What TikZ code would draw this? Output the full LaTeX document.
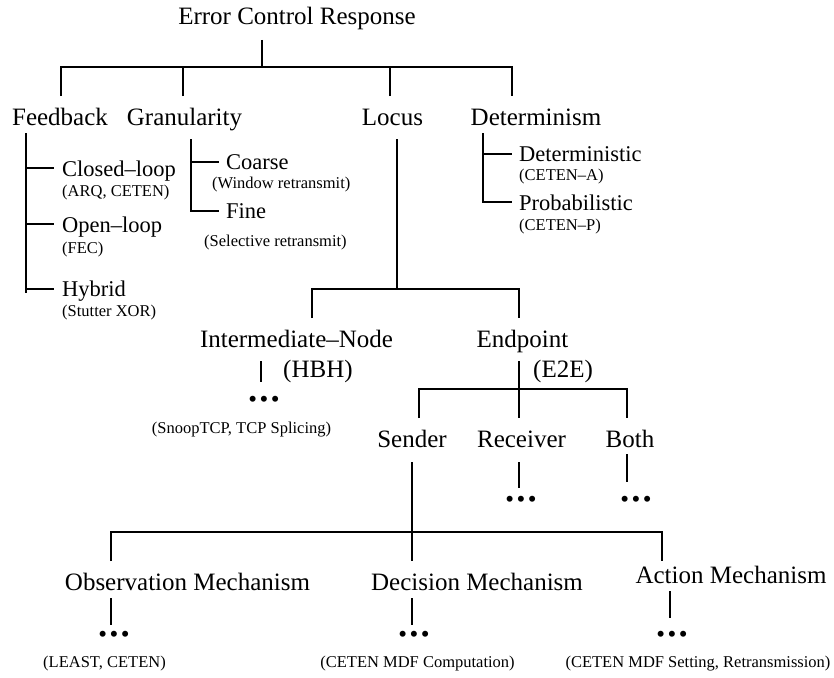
\documentclass[tikz,border=0pt]{standalone}
\usepackage{fontspec}
\setmainfont{Liberation Serif}

\tikzset{
  cat/.style={font=\fontsize{25}{30}\selectfont, inner sep=0pt, anchor=base},
  leaf/.style={font=\fontsize{22.5}{27}\selectfont, inner sep=0pt, anchor=base west},
  ex/.style={font=\fontsize{16.5}{20}\selectfont, inner sep=0pt, anchor=base},
  more/.style={font=\fontsize{25}{30}\selectfont, inner sep=0pt},
  branch/.style={line width=2.6pt},
}
\newcommand{\moredots}{\textbullet\kern2.5pt\textbullet\kern2.5pt\textbullet}

\begin{document}
\begin{tikzpicture}[x=1pt,y=1pt,yscale=-1,xscale=1]
\path[use as bounding box] (0,0) rectangle (834,677);

% top level
\node[cat] (ecr) at (297,25) {Error Control Response};
\node[cat] (fb) at (60,125) {Feedback};
\node[cat] (gr) at (184.5,125) {Granularity};
\node[cat] (lc) at (392.5,125) {Locus};
\node[cat] (dt) at (536,125) {Determinism};

\coordinate (ecr-d) at (262,40);
\coordinate (bar0) at (262,67);
\coordinate (fb-u) at (61,96);
\coordinate (gr-u) at (183,96);
\coordinate (lc-u) at (390,96);
\coordinate (dt-u) at (512,96);
\draw[branch] (ecr-d) -- (bar0);
\draw[branch] (fb-u) |- (bar0) -| (dt-u);
\draw[branch] (gr-u) -- (gr-u |- bar0);
\draw[branch] (lc-u) -- (lc-u |- bar0);

% feedback
\node[leaf] (cl) at (62,176) {Closed--loop};
\node[ex,anchor=base west] (cl-x) at (62,196) {(ARQ, CETEN)};
\node[leaf] (ol) at (62,232) {Open--loop};
\node[ex,anchor=base west] (ol-x) at (62,253) {(FEC)};
\node[leaf] (hy) at (62,296) {Hybrid};
\node[ex,anchor=base west] (hy-x) at (62,316) {(Stutter XOR)};

\coordinate (fb-t) at (26,133);
\coordinate (fb-b) at (26,293);
\draw[branch] (fb-t) -- (fb-b);
\foreach \y/\n in {168/cl,224/ol,289/hy}{
  \coordinate (\n-l) at (54,\y);
  \draw[branch] (fb-t |- \n-l) -- (\n-l);
}

% granularity
\node[leaf] (co) at (226,169) {Coarse};
\node[ex,anchor=base west] (co-x) at (212,188) {(Window retransmit)};
\node[leaf] (fi) at (226,218) {Fine};
\node[ex,anchor=base west] (fi-x) at (204,246) {(Selective retransmit)};

\coordinate (gr-t) at (191,139);
\coordinate (co-l) at (219,162);
\coordinate (fi-l) at (219,211);
\draw[branch] (gr-t) |- (fi-l);
\draw[branch] (gr-t |- co-l) -- (co-l);

% determinism
\node[leaf] (de) at (519,161) {Deterministic};
\node[ex,anchor=base west] (de-x) at (519,180) {(CETEN--A)};
\node[leaf] (pr) at (519,210) {Probabilistic};
\node[ex,anchor=base west] (pr-x) at (519,230) {(CETEN--P)};

\coordinate (dt-t) at (483,133);
\coordinate (de-l) at (512,154);
\coordinate (pr-l) at (512,202);
\draw[branch] (dt-t) |- (pr-l);
\draw[branch] (dt-t |- de-l) -- (de-l);

% locus
\node[cat] (in) at (296.5,347) {Intermediate--Node};
\node[cat,anchor=base west] (in-b) at (283,377) {(HBH)};
\node[more] (in-m) at (264,402) {\moredots};
\node[ex] (in-x) at (241.5,433) {(SnoopTCP, TCP Splicing)};
\node[cat] (ep) at (522.5,347) {Endpoint};
\node[cat,anchor=base west] (ep-b) at (533,377) {(E2E)};

\coordinate (lc-t) at (397,139);
\coordinate (bar1) at (397,289);
\coordinate (in-u) at (312,318);
\coordinate (ep-u) at (519,318);
\draw[branch] (lc-t) -- (bar1);
\draw[branch] (in-u) |- (bar1) -| (ep-u);
\coordinate (in-d) at (261,361);
\draw[branch] (in-d) -- ++(0,21);

% endpoint
\node[cat] (se) at (412,447) {Sender};
\node[cat] (re) at (521.5,447) {Receiver};
\node[cat] (bo) at (630,447) {Both};
\node[more] (re-m) at (521,502) {\moredots};
\node[more] (bo-m) at (636,502) {\moredots};

\coordinate (ep-d) at (519,361);
\coordinate (bar2) at (519,389);
\coordinate (se-u) at (419,418);
\coordinate (re-u) at (519,418);
\coordinate (bo-u) at (627,418);
\draw[branch] (ep-d) -- (re-u);
\draw[branch] (se-u) |- (bar2) -| (bo-u);
\draw[branch] (519,462) -- (519,488);
\draw[branch] (627,454) -- (627,482);

% sender
\node[cat] (ob) at (187.5,590) {Observation Mechanism};
\node[cat] (dc) at (477,590) {Decision Mechanism};
\node[cat] (ac) at (731,583) {Action Mechanism};
\node[more] (ob-m) at (114,637) {\moredots};
\node[more] (dc-m) at (414,637) {\moredots};
\node[more] (ac-m) at (672,637) {\moredots};
\node[ex] (ob-x) at (104.5,667) {(LEAST, CETEN)};
\node[ex] (dc-x) at (417.5,667) {(CETEN MDF Computation)};
\node[ex] (ac-x) at (698,667) {(CETEN MDF Setting, Retransmission)};

\coordinate (se-d) at (412,462);
\coordinate (bar3) at (412,532);
\coordinate (ob-u) at (111,561);
\coordinate (dc-u) at (412,561);
\coordinate (ac-u) at (662,561);
\draw[branch] (se-d) -- (dc-u);
\draw[branch] (ob-u) |- (bar3) -| (ac-u);
\draw[branch] (111,598) -- (111,625);
\draw[branch] (412,598) -- (412,625);
\draw[branch] (670,591) -- (670,618);

\end{tikzpicture}
\end{document}
